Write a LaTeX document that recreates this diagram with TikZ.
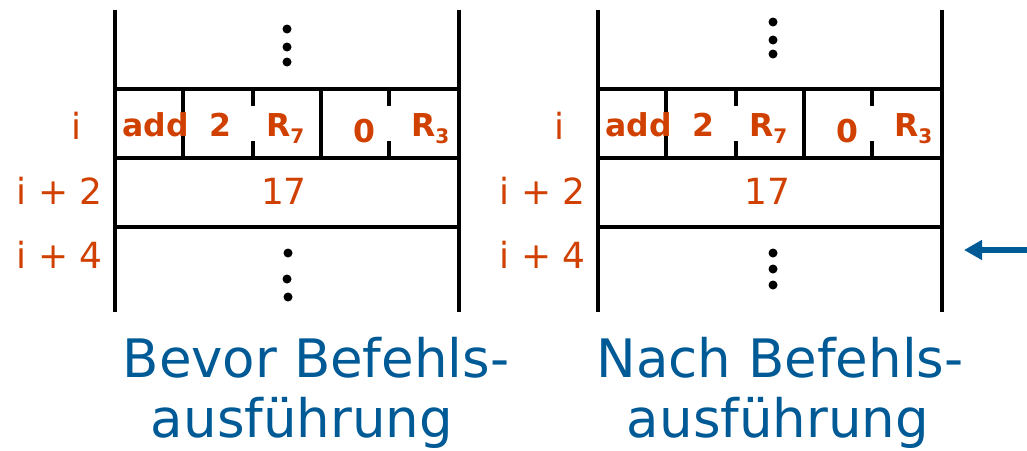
\documentclass[tikz,border=0pt]{standalone}
\usepackage{fontspec}
\setmainfont{DejaVu Sans}
\usetikzlibrary{arrows.meta}
\definecolor{addrorange}{RGB}{208,64,0}
\definecolor{capblue}{RGB}{0,90,150}
\begin{document}
\begin{tikzpicture}[x=1pt,y=-1pt,
  rule/.style={line width=3.5pt, black},
  addrlabel/.style={text=addrorange, font=\fontsize{36}{40}\selectfont, inner sep=0pt},
  celltext/.style={text=addrorange, font=\fontsize{31.5}{34}\selectfont\bfseries, inner sep=0pt},
  dotmark/.style={circle, fill=black, inner sep=0pt, minimum size=9pt},
  captext/.style={text=capblue, font=\fontsize{53}{60}\selectfont, inner sep=0pt, anchor=base},
  pointer/.style={draw=capblue, line width=5.5pt, -{Triangle[length=18pt,width=19pt]}}
]
\useasboundingbox (0,0) rectangle (1027,450);

% memory frame: two rails, three row separators, field dividers of the instruction word
\foreach \o/\p in {0/L,483/R}{
  \begin{scope}[xshift=\o pt]
    \draw[rule] (115,10) -- (115,312);
    \draw[rule] (459,10) -- (459,312);
    \draw[rule] (115,89) -- (459,89);
    \draw[rule] (115,158) -- (459,158);
    \draw[rule] (115,227) -- (459,227);
    \draw[rule] (183,89) -- (183,158);
    \draw[rule] (321,89) -- (321,158);
    \draw[rule] (253,89) -- (253,106) (253,141) -- (253,158);
    \draw[rule] (389,89) -- (389,106) (389,141) -- (389,158);
    % addresses
    \node[addrlabel, anchor=base] (\p-ai) at (76,139) {i};
    \node[addrlabel, anchor=base east] (\p-ai2) at (103,204) {i + 2};
    \node[addrlabel, anchor=base east] (\p-ai4) at (103,268) {i + 4};
    % instruction word fields
    \node[celltext, anchor=base west] (\p-op) at (122,136) {add};
    \node[celltext, anchor=base] (\p-f2) at (220,136) {2};
    \node[celltext, anchor=base west] (\p-r7) at (266,136) {R\raisebox{-7pt}{\fontsize{20}{20}\selectfont 7}};
    \node[celltext, anchor=base] (\p-f0) at (364,142) {0};
    \node[celltext, anchor=base west] (\p-r3) at (411,136) {R\raisebox{-7pt}{\fontsize{20}{20}\selectfont 3}};
    % data word
    \node[addrlabel, anchor=base] (\p-val) at (284,204) {17};
  \end{scope}
}

% continuation dots
\node[dotmark] (L-t1) at (287,29) {};
\node[dotmark] (L-t2) at (287,47) {};
\node[dotmark] (L-t3) at (287,62) {};
\node[dotmark] (L-b1) at (288,253) {};
\node[dotmark] (L-b2) at (287,279) {};
\node[dotmark] (L-b3) at (288,297) {};
\node[dotmark] (R-t1) at (773,22) {};
\node[dotmark] (R-t2) at (773,40) {};
\node[dotmark] (R-t3) at (773,54) {};
\node[dotmark] (R-b1) at (773,253) {};
\node[dotmark] (R-b2) at (773,269) {};
\node[dotmark] (R-b3) at (773,285) {};

% captions
\node[captext] (capL1) at (316,377) {Bevor Befehls-};
\node[captext] (capL2) at (302,437) {ausführung};
\node[captext] (capR1) at (780,377) {Nach Befehls-};
\node[captext] (capR2) at (778,437) {ausführung};

% program counter pointer
\coordinate (pcstart) at (1027,250);
\coordinate (pctip) at (964,250);
\draw[pointer] (pcstart) -- (pctip);
\end{tikzpicture}
\end{document}
